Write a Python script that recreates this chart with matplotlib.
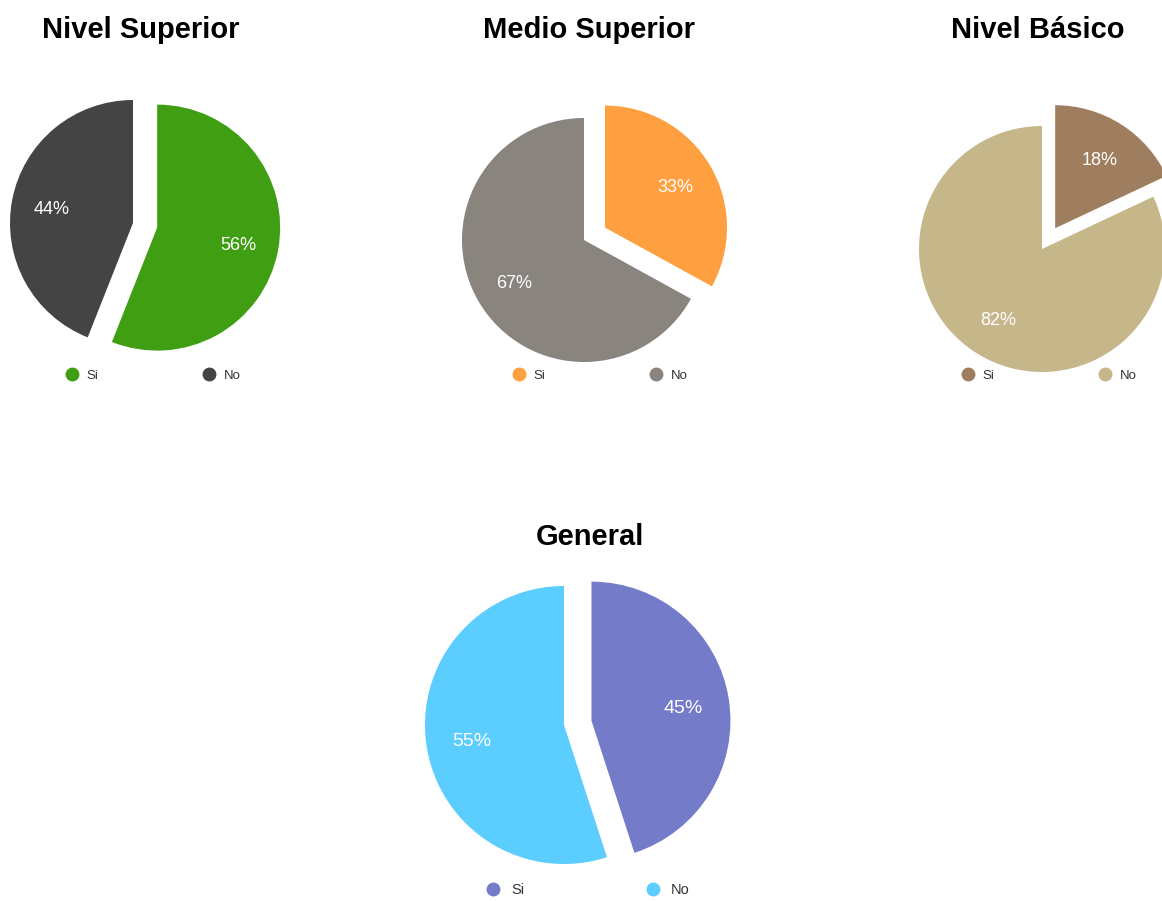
import matplotlib
matplotlib.use("Agg")
import matplotlib.pyplot as plt
from matplotlib.lines import Line2D

plt.rcParams['font.family'] = ['Liberation Sans', 'DejaVu Sans']

# Survey answers by education level
titles = ["Nivel Superior", "Medio Superior", "Nivel Básico", "General"]
categories = ["Si", "No"]
si_values = [56, 33, 18, 45]
no_values = [44, 67, 82, 55]
palettes = [
    ["#409e12", "#444444"],
    ["#ffa040", "#8a847f"],
    ["#9e7e5e", "#c6b78a"],
    ["#747bc9", "#5bcdfe"],
]

W, H = 1162, 901
fig = plt.figure(figsize=(W / 100, H / 100), dpi=100)
fig.patch.set_facecolor("white")

# layout in pixels: pie centre, radius, title position, legend centre
layout = [
    dict(c=(133, 223), r=123, title=(141, 30), leg=(153, 376), pct=13,
         leg_fs=9.5, colsp=7.9, tpad=0.6),
    dict(c=(584, 240), r=122, title=(589, 30), leg=(600, 376), pct=13,
         leg_fs=9.5, colsp=7.9, tpad=0.6),
    dict(c=(1042, 249), r=123, title=(1038, 30), leg=(1049, 376), pct=13,
         leg_fs=9.5, colsp=7.9, tpad=0.6),
    dict(c=(564, 725), r=139, title=(590, 537), leg=(588, 890), pct=14,
         leg_fs=10.5, colsp=8.3, tpad=0.75),
]

half = 175
for title, si, no, cols, lay in zip(titles, si_values, no_values, palettes, layout):
    cx, cy = lay["c"]
    r = lay["r"]
    ax = fig.add_axes([(cx - half) / W, (H - cy - half) / H, 2 * half / W, 2 * half / H])
    lim = half / r
    ax.pie([si, no], colors=cols, startangle=90, counterclock=False,
           explode=[0.2, 0.0], autopct=lambda p: f"{p:.0f}%", pctdistance=0.67,
           textprops=dict(color="white", fontsize=lay["pct"], va="center_baseline"),
           wedgeprops=dict(linewidth=0))
    ax.set_xlim(-lim, lim)
    ax.set_ylim(-lim, lim)
    ax.set_aspect("equal")
    ax.axis("off")

    tx, ty = lay["title"]
    fig.text(tx / W, 1 - ty / H, title, ha="center", va="center",
             fontsize=21, fontweight="bold", color="black")

    handles = [Line2D([], [], linestyle="none", marker="o", markersize=10,
                      markerfacecolor=c, markeredgewidth=0) for c in cols]
    lx, ly = lay["leg"]
    fig.legend(handles, categories, loc="center", ncol=2,
               bbox_to_anchor=(lx / W, 1 - ly / H), frameon=False,
               fontsize=lay["leg_fs"], handlelength=1.0,
               handletextpad=lay["tpad"], columnspacing=lay["colsp"],
               labelcolor="#333333")

fig.savefig("out.png", dpi=100, facecolor="white")
